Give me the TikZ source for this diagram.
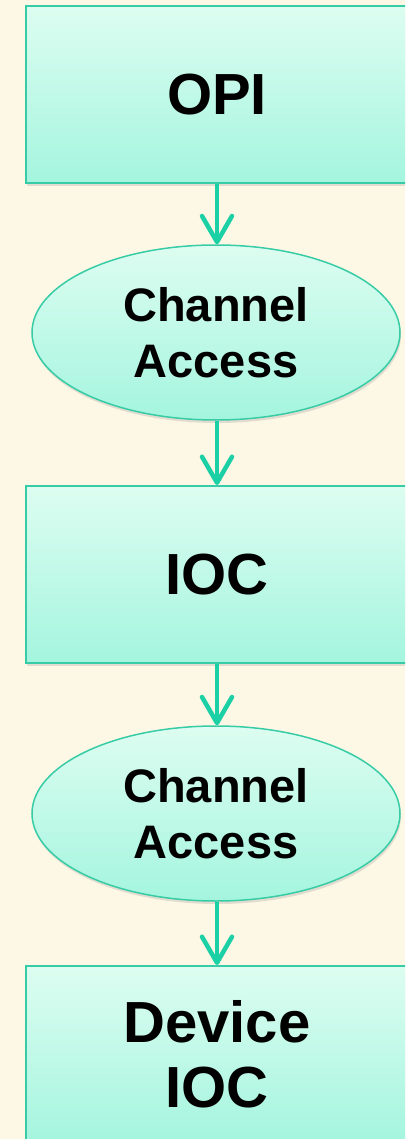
\documentclass[tikz,border=0pt]{standalone}
\usepackage{fontspec}
\setmainfont{Liberation Sans}
\usetikzlibrary{arrows.meta,shapes.geometric,shadows}

\definecolor{paper}{HTML}{FDF7E6}
\definecolor{edge}{HTML}{38CCA6}
\definecolor{flowline}{HTML}{1CD0A6}
\definecolor{filltop}{HTML}{DDFDF1}
\definecolor{fillbot}{HTML}{A4F5DE}

\tikzset{
  stagebox/.style={rectangle, draw=edge, line width=2pt,
    top color=filltop, bottom color=fillbot,
    minimum width=382pt, minimum height=177pt, inner sep=0pt,
    drop shadow={opacity=0.22, shadow xshift=1pt, shadow yshift=-3pt},
    align=center, font=\bfseries\fontsize{58}{65}\selectfont},
  linkoval/.style={ellipse, draw=edge, line width=1.5pt,
    top color=filltop, bottom color=fillbot,
    minimum width=368pt, minimum height=175pt, inner sep=0pt,
    drop shadow={opacity=0.22, shadow xshift=1pt, shadow yshift=-3pt},
    align=center, font=\bfseries\fontsize{47}{56}\selectfont},
  flow/.style={draw=flowline, line width=4.5pt,
    -{Straight Barb[length=26pt,width=30pt,round]}}
}

\begin{document}
\begin{tikzpicture}[x=1pt,y=1pt]
  \useasboundingbox (0,0) rectangle (405,-1139);
  \clip (0,0) rectangle (405,-1139);
  \fill[paper] (0,0) rectangle (405,-1139);

  \node[stagebox] (opi) at (217,-94.5) {OPI};
  \node[linkoval] (ca1) at (216,-332.5) {Channel\\Access};
  \node[stagebox] (ioc) at (217,-574.5) {IOC};
  \node[linkoval] (ca2) at (216,-813.5) {Channel\\Access};
  \node[stagebox] (dev) at (217,-1054.5) {Device\\IOC};

  \draw[flow] (opi.south) -- (opi.south |- ca1.north);
  \draw[flow] (opi.south |- ca1.south) -- (ioc.north);
  \draw[flow] (ioc.south) -- (ioc.south |- ca2.north);
  \draw[flow] (ioc.south |- ca2.south) -- (dev.north);
\end{tikzpicture}
\end{document}
